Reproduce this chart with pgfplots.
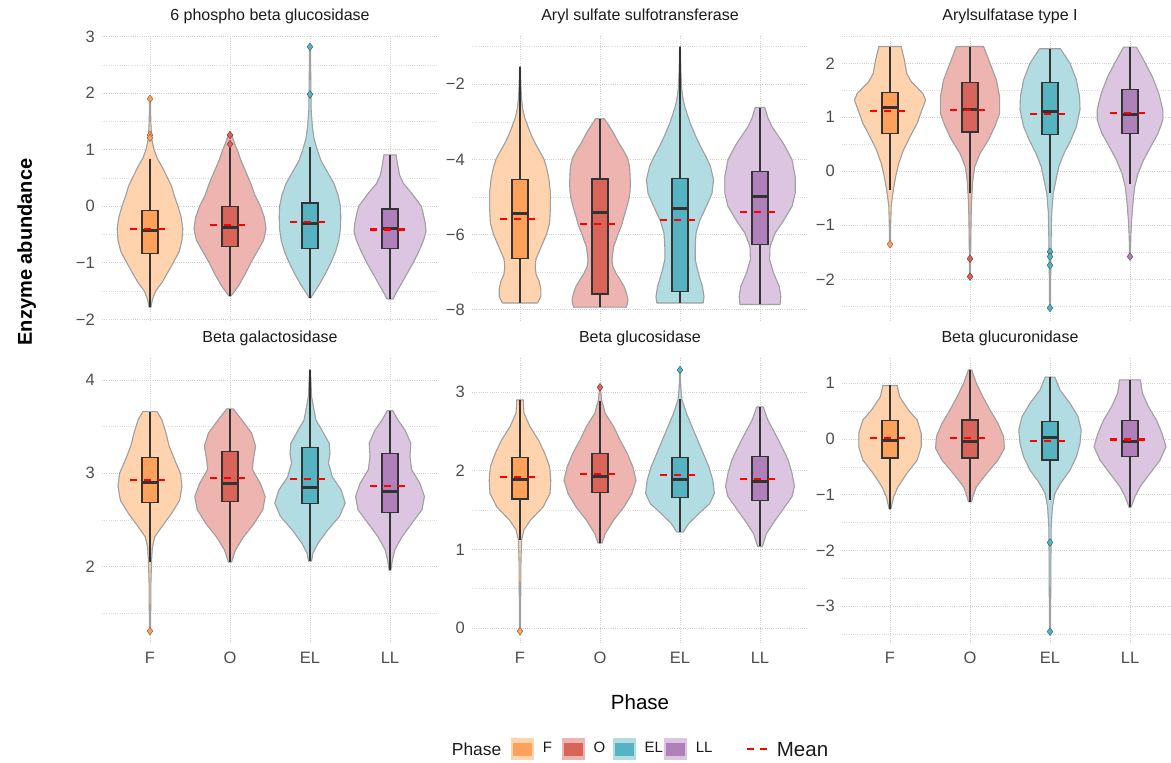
\documentclass[border=0pt]{standalone}
\usepackage{pgfplots}
\pgfplotsset{compat=1.18}
\usepackage{pgfplotstable}
\usepackage{fontspec}
\setmainfont{Liberation Sans}

\definecolor{boxF}{HTML}{FEA15B}
\definecolor{vioF}{HTML}{FED3AE}
\definecolor{boxO}{HTML}{D9645A}
\definecolor{vioO}{HTML}{EDB4B0}
\definecolor{boxE}{HTML}{56B3C2}
\definecolor{vioE}{HTML}{B1DCE2}
\definecolor{boxL}{HTML}{AF80B9}
\definecolor{vioL}{HTML}{DBC5E0}
\definecolor{dk}{HTML}{333333}
\definecolor{vgray}{HTML}{A0A0A0}
\definecolor{gridc}{HTML}{CFCFCF}
\definecolor{tickc}{HTML}{4D4D4D}
\definecolor{titc}{HTML}{1A1A1A}

\newcommand\ticksz{\fontsize{16.5}{18}\selectfont}
\newcommand\titsz{\fontsize{16}{18}\selectfont}
\newcommand\labsz{\fontsize{20.5}{22}\selectfont}

% ---------- violin profiles (y, half width); first/last rows close on the centre line ----------
\pgfplotstableread{
y w
-1.79 0
-1.79 0.010
-1.65 0.030
-1.50 0.070
-1.35 0.150
-1.20 0.210
-1.00 0.290
-0.80 0.365
-0.60 0.400
-0.40 0.410
-0.20 0.390
0.00 0.350
0.20 0.300
0.35 0.270
0.50 0.220
0.70 0.150
0.85 0.090
1.00 0.050
1.20 0.020
1.50 0.010
1.90 0.005
1.90 0
}\tAF
\pgfplotstableread{
y w
-1.59 0
-1.59 0.010
-1.50 0.060
-1.40 0.110
-1.20 0.190
-1.00 0.260
-0.80 0.340
-0.60 0.420
-0.40 0.450
-0.20 0.430
0.00 0.380
0.20 0.310
0.40 0.260
0.60 0.200
0.80 0.140
1.00 0.090
1.10 0.060
1.26 0.020
1.26 0
}\tAO
\pgfplotstableread{
y w
-1.62 0
-1.62 0.010
-1.55 0.040
-1.40 0.110
-1.20 0.190
-1.00 0.260
-0.80 0.320
-0.60 0.360
-0.40 0.380
-0.20 0.385
0.00 0.380
0.20 0.350
0.40 0.300
0.60 0.220
0.80 0.140
1.00 0.090
1.20 0.050
1.40 0.030
1.70 0.015
2.00 0.012
2.82 0.005
2.82 0
}\tAE
\pgfplotstableread{
y w
-1.64 0
-1.64 0.040
-1.55 0.070
-1.40 0.130
-1.20 0.210
-1.00 0.290
-0.80 0.360
-0.60 0.420
-0.45 0.450
-0.30 0.440
-0.10 0.410
0.00 0.390
0.10 0.340
0.25 0.260
0.40 0.170
0.55 0.120
0.70 0.100
0.91 0.075
0.91 0
}\tAL
\pgfplotstableread{
y w
-7.82 0
-7.82 0.220
-7.65 0.260
-7.45 0.260
-7.25 0.240
-7.05 0.200
-6.85 0.190
-6.65 0.200
-6.45 0.240
-6.25 0.280
-6.00 0.330
-5.70 0.370
-5.30 0.380
-4.90 0.380
-4.50 0.360
-4.20 0.330
-4.00 0.300
-3.80 0.250
-3.57 0.190
-3.35 0.140
-3.13 0.100
-2.90 0.060
-2.68 0.035
-2.40 0.020
-2.00 0.010
-1.53 0.005
-1.53 0
}\tBF
\pgfplotstableread{
y w
-7.93 0
-7.93 0.330
-7.75 0.350
-7.55 0.330
-7.38 0.300
-7.20 0.250
-7.03 0.200
-6.85 0.160
-6.67 0.150
-6.50 0.160
-6.32 0.170
-6.15 0.200
-5.96 0.230
-5.75 0.270
-5.52 0.300
-5.30 0.330
-5.08 0.360
-4.85 0.375
-4.63 0.380
-4.40 0.375
-4.19 0.370
-3.95 0.340
-3.75 0.290
-3.55 0.230
-3.30 0.170
-3.10 0.110
-2.92 0.055
-2.92 0
}\tBO
\pgfplotstableread{
y w
-7.82 0
-7.82 0.290
-7.65 0.300
-7.38 0.280
-7.03 0.230
-6.67 0.190
-6.32 0.190
-5.96 0.200
-5.61 0.250
-5.25 0.330
-4.90 0.400
-4.54 0.420
-4.19 0.380
-3.95 0.330
-3.75 0.280
-3.50 0.220
-3.30 0.180
-3.05 0.130
-2.86 0.100
-2.60 0.060
-2.42 0.040
-2.10 0.020
-1.60 0.010
-1.00 0.005
-1.00 0
}\tBE
\pgfplotstableread{
y w
-7.86 0
-7.86 0.250
-7.65 0.260
-7.38 0.240
-7.03 0.170
-6.67 0.120
-6.32 0.125
-5.96 0.190
-5.61 0.300
-5.25 0.400
-4.90 0.440
-4.46 0.440
-4.01 0.400
-3.80 0.350
-3.57 0.290
-3.35 0.220
-3.13 0.150
-2.90 0.100
-2.62 0.060
-2.62 0
}\tBL
\pgfplotstableread{
y w
-1.35 0
-1.35 0.005
-1.00 0.008
-0.65 0.015
-0.41 0.035
-0.10 0.070
0.15 0.110
0.40 0.170
0.64 0.250
0.89 0.340
1.14 0.400
1.32 0.445
1.44 0.410
1.55 0.340
1.65 0.270
1.81 0.210
2.06 0.180
2.31 0.140
2.31 0
}\tCF
\pgfplotstableread{
y w
-1.95 0
-1.95 0.005
-1.62 0.008
-1.20 0.010
-0.80 0.015
-0.53 0.020
-0.16 0.035
0.09 0.060
0.33 0.125
0.58 0.230
0.83 0.310
1.07 0.370
1.38 0.370
1.69 0.330
2.00 0.250
2.31 0.170
2.31 0
}\tCO
\pgfplotstableread{
y w
-2.53 0
-2.53 0.005
-2.00 0.008
-1.60 0.012
-1.20 0.015
-0.78 0.020
-0.41 0.040
-0.16 0.075
0.09 0.110
0.33 0.175
0.58 0.260
0.83 0.330
1.14 0.375
1.38 0.370
1.69 0.330
2.00 0.250
2.27 0.130
2.27 0
}\tCE
\pgfplotstableread{
y w
-1.58 0
-1.58 0.005
-1.20 0.010
-0.90 0.020
-0.53 0.040
-0.28 0.060
-0.04 0.100
0.21 0.170
0.46 0.260
0.70 0.350
0.95 0.410
1.14 0.410
1.44 0.360
1.75 0.280
2.06 0.170
2.30 0.080
2.30 0
}\tCL
\pgfplotstableread{
y w
1.31 0
1.31 0.005
1.60 0.010
1.85 0.012
2.07 0.020
2.21 0.030
2.32 0.060
2.43 0.150
2.57 0.270
2.71 0.370
2.86 0.400
3.00 0.380
3.14 0.310
3.29 0.240
3.43 0.200
3.57 0.150
3.66 0.090
3.66 0
}\tDF
\pgfplotstableread{
y w
2.05 0
2.05 0.020
2.18 0.070
2.32 0.170
2.46 0.300
2.61 0.410
2.75 0.440
2.89 0.380
3.04 0.280
3.14 0.290
3.29 0.320
3.43 0.270
3.57 0.150
3.69 0.040
3.69 0
}\tDO
\pgfplotstableread{
y w
2.06 0
2.06 0.020
2.14 0.035
2.25 0.100
2.39 0.220
2.54 0.370
2.68 0.440
2.82 0.390
2.96 0.280
3.11 0.230
3.21 0.250
3.32 0.240
3.46 0.150
3.57 0.075
3.68 0.050
3.82 0.020
4.11 0.005
4.11 0
}\tDE
\pgfplotstableread{
y w
1.96 0
1.96 0.010
2.07 0.030
2.18 0.060
2.32 0.150
2.46 0.270
2.61 0.400
2.75 0.430
2.89 0.375
3.04 0.270
3.18 0.250
3.32 0.260
3.46 0.190
3.57 0.100
3.67 0.035
3.67 0
}\tDL
\pgfplotstableread{
y w
-0.04 0
-0.04 0.005
0.31 0.008
0.86 0.012
1.12 0.020
1.25 0.050
1.37 0.130
1.54 0.290
1.71 0.375
1.88 0.385
2.05 0.370
2.22 0.310
2.39 0.230
2.56 0.125
2.73 0.050
2.90 0.040
2.90 0
}\tEF
\pgfplotstableread{
y w
1.08 0
1.08 0.025
1.20 0.065
1.37 0.170
1.54 0.300
1.71 0.400
1.88 0.450
2.05 0.410
2.22 0.340
2.39 0.250
2.56 0.170
2.73 0.065
2.90 0.020
3.06 0.005
3.06 0
}\tEO
\pgfplotstableread{
y w
1.22 0
1.22 0.040
1.33 0.110
1.46 0.240
1.58 0.370
1.71 0.430
1.88 0.410
2.05 0.360
2.22 0.290
2.39 0.220
2.56 0.150
2.73 0.080
2.90 0.025
3.05 0.010
3.28 0.005
3.28 0
}\tEE
\pgfplotstableread{
y w
1.04 0
1.04 0.030
1.20 0.080
1.37 0.190
1.54 0.310
1.67 0.400
1.80 0.430
1.97 0.400
2.14 0.350
2.31 0.270
2.47 0.190
2.64 0.100
2.81 0.040
2.81 0
}\tEL
\pgfplotstableread{
y w
-1.26 0
-1.26 0.010
-1.04 0.045
-0.86 0.100
-0.62 0.210
-0.38 0.340
-0.14 0.390
0.10 0.390
0.34 0.340
0.52 0.230
0.76 0.120
0.96 0.090
0.96 0
}\tFF
\pgfplotstableread{
y w
-1.13 0
-1.13 0.020
-1.04 0.035
-0.86 0.080
-0.62 0.210
-0.38 0.350
-0.17 0.430
0.04 0.420
0.28 0.350
0.52 0.250
0.76 0.160
1.00 0.080
1.24 0.020
1.24 0
}\tFO
\pgfplotstableread{
y w
-3.46 0
-3.46 0.005
-2.65 0.010
-1.99 0.012
-1.57 0.015
-1.22 0.030
-0.98 0.060
-0.80 0.130
-0.56 0.250
-0.32 0.330
-0.08 0.375
0.16 0.390
0.40 0.350
0.64 0.250
0.88 0.125
1.11 0.060
1.11 0
}\tFE
\pgfplotstableread{
y w
-1.23 0
-1.23 0.010
-1.04 0.060
-0.86 0.125
-0.62 0.250
-0.38 0.375
-0.14 0.450
0.10 0.400
0.34 0.330
0.58 0.230
0.82 0.155
1.06 0.130
1.06 0
}\tFL

% ---------- helpers ----------
\newcommand{\violin}[3]{%
  \addplot[fill=#3, draw=#3, line width=0.5pt] table[x expr={#1+\thisrow{w}}, y=y] {#2} -- cycle;
  \addplot[fill=#3, draw=#3, line width=0.5pt] table[x expr={#1-\thisrow{w}}, y=y] {#2} -- cycle;
  \addplot[draw=vgray, line width=1.1pt, line join=round] table[x expr={#1+\thisrow{w}}, y=y] {#2};
  \addplot[draw=vgray, line width=1.1pt, line join=round] table[x expr={#1-\thisrow{w}}, y=y] {#2};
}
% box: left, centre, right, lower whisker, Q1, median, Q3, upper whisker, colour
\newcommand{\bx}[9]{%
  \addplot[dk, line width=1.3pt] coordinates {(#2,#4) (#2,#5)};
  \addplot[dk, line width=1.3pt] coordinates {(#2,#7) (#2,#8)};
  \addplot[fill=#9, draw=dk, line width=1.3pt] coordinates {(#1,#5) (#3,#5) (#3,#7) (#1,#7)} -- cycle;
  \addplot[dk, line width=3pt] coordinates {(#1,#6) (#3,#6)};
}
\newcommand{\mn}[3]{%
  \addplot[red, line width=2.2pt, dash pattern=on 7.3pt off 6.7pt] coordinates {(#1,#3) (#2,#3)};
}

\pgfplotsset{
  panel/.style={
    scale only axis, width=336pt, height=286pt, anchor=south west,
    xmin=0.4, xmax=4.6, xtick={1,2,3,4}, xticklabels={F,O,EL,LL},
    axis line style={draw=none}, major tick length=0pt, minor tick length=0pt,
    xmajorgrids=true, ymajorgrids=true, yminorgrids=true,
    major grid style={draw=gridc, line width=0.6pt, dash pattern=on 1pt off 1.2pt},
    minor grid style={draw=gridc!75, line width=0.5pt, dash pattern=on 1pt off 1.2pt},
    tick label style={font=\ticksz, text=tickc},
    yticklabel style={anchor=east, inner sep=0pt, xshift=-7pt},
    xticklabel style={anchor=north, inner sep=0pt, yshift=-8.5pt},
    title style={font=\titsz, text=titc, at={(0.5,1)}, anchor=base, yshift=8.5pt, inner sep=0pt},
  },
  outl/.style={only marks, mark=diamond*, mark size=3.8pt,
    mark options={solid, fill=#1, draw=#1!60!black, line width=0.5pt}},
}

\begin{document}
\begin{tikzpicture}[x=1pt,y=1pt]

% ===== Panel A =====
\begin{axis}[panel, at={(102pt,442pt)}, ymin=-2.03, ymax=3.03,
  ytick={-2,-1,0,1,2,3}, yticklabels={−2,−1,0,1,2,3},
  minor ytick={-1.5,-0.5,0.5,1.5,2.5}, xticklabels={},
  title={6 phospho beta glucosidase}]
\violin{1}{\tAF}{vioF}
\violin{2}{\tAO}{vioO}
\violin{3}{\tAE}{vioE}
\violin{4}{\tAL}{vioL}
\bx{0.9}{1}{1.1}{-1.79}{-0.83}{-0.43}{-0.07}{0.83}{boxF}
\bx{1.9}{2}{2.1}{-1.59}{-0.71}{-0.38}{0.00}{1.05}{boxO}
\bx{2.9}{3}{3.1}{-1.62}{-0.75}{-0.31}{0.06}{1.05}{boxE}
\bx{3.9}{4}{4.1}{-1.64}{-0.75}{-0.40}{-0.05}{0.91}{boxL}
\addplot[outl=boxF] coordinates {(1,1.90) (1,1.26) (1,1.21)};
\addplot[outl=boxO] coordinates {(2,1.26) (2,1.10)};
\addplot[outl=boxE] coordinates {(3,1.98) (3,2.82)};
\mn{0.75}{1.25}{-0.40}
\mn{1.75}{2.25}{-0.33}
\mn{2.75}{3.25}{-0.28}
\mn{3.75}{4.25}{-0.41}
\end{axis}

% ===== Panel B =====
\begin{axis}[panel, at={(472pt,442pt)}, ymin=-8.30, ymax=-0.69,
  ytick={-8,-6,-4,-2}, yticklabels={−8,−6,−4,−2},
  minor ytick={-7,-5,-3,-1}, xticklabels={},
  title={Aryl sulfate sulfotransferase}]
\violin{1}{\tBF}{vioF}
\violin{2}{\tBO}{vioO}
\violin{3}{\tBE}{vioE}
\violin{4}{\tBL}{vioL}
\bx{0.9}{1}{1.1}{-7.82}{-6.63}{-5.45}{-4.53}{-1.53}{boxF}
\bx{1.9}{2}{2.1}{-7.93}{-7.58}{-5.41}{-4.52}{-2.92}{boxO}
\bx{2.9}{3}{3.1}{-7.82}{-7.52}{-5.32}{-4.50}{-1.00}{boxE}
\bx{3.9}{4}{4.1}{-7.86}{-6.26}{-4.99}{-4.32}{-2.62}{boxL}
\mn{0.75}{1.25}{-5.58}
\mn{1.75}{2.25}{-5.71}
\mn{2.75}{3.25}{-5.62}
\mn{3.75}{4.25}{-5.40}
\end{axis}

% ===== Panel C =====
\begin{axis}[panel, at={(842pt,442pt)}, ymin=-2.772, ymax=2.524,
  ytick={-2,-1,0,1,2}, yticklabels={−2,−1,0,1,2},
  minor ytick={-2.5,-1.5,-0.5,0.5,1.5,2.5}, xticklabels={},
  title={Arylsulfatase type I}]
\violin{1}{\tCF}{vioF}
\violin{2}{\tCO}{vioO}
\violin{3}{\tCE}{vioE}
\violin{4}{\tCL}{vioL}
\bx{0.9}{1}{1.1}{-0.35}{0.70}{1.19}{1.46}{2.31}{boxF}
\bx{1.9}{2}{2.1}{-0.40}{0.73}{1.15}{1.65}{2.31}{boxO}
\bx{2.9}{3}{3.1}{-0.40}{0.68}{1.10}{1.65}{2.27}{boxE}
\bx{3.9}{4}{4.1}{-0.23}{0.70}{1.06}{1.52}{2.30}{boxL}
\addplot[outl=boxF] coordinates {(1,-1.35)};
\addplot[outl=boxO] coordinates {(2,-1.62) (2,-1.95)};
\addplot[outl=boxE] coordinates {(3,-1.49) (3,-1.58) (3,-1.74) (3,-2.53)};
\addplot[outl=boxL] coordinates {(4,-1.58)};
\mn{0.75}{1.25}{1.11}
\mn{1.75}{2.25}{1.14}
\mn{2.75}{3.25}{1.06}
\mn{3.75}{4.25}{1.08}
\end{axis}

% ===== Panel D =====
\begin{axis}[panel, at={(102pt,120pt)}, ymin=1.182, ymax=4.246,
  ytick={2,3,4}, yticklabels={2,3,4},
  minor ytick={1.5,2.5,3.5},
  title={Beta galactosidase}]
\violin{1}{\tDF}{vioF}
\violin{2}{\tDO}{vioO}
\violin{3}{\tDE}{vioE}
\violin{4}{\tDL}{vioL}
\bx{0.9}{1}{1.1}{2.05}{2.69}{2.90}{3.17}{3.66}{boxF}
\bx{1.9}{2}{2.1}{2.05}{2.70}{2.89}{3.23}{3.69}{boxO}
\bx{2.9}{3}{3.1}{2.06}{2.675}{2.85}{3.275}{4.11}{boxE}
\bx{3.9}{4}{4.1}{1.96}{2.58}{2.80}{3.21}{3.67}{boxL}
\addplot[outl=boxF] coordinates {(1,1.31)};
\mn{0.75}{1.25}{2.93}
\mn{1.75}{2.25}{2.95}
\mn{2.75}{3.25}{2.94}
\mn{3.75}{4.25}{2.86}
\end{axis}

% ===== Panel E =====
\begin{axis}[panel, at={(472pt,120pt)}, ymin=-0.19, ymax=3.445,
  ytick={0,1,2,3}, yticklabels={0,1,2,3},
  minor ytick={0.5,1.5,2.5},
  title={Beta glucosidase}]
\violin{1}{\tEF}{vioF}
\violin{2}{\tEO}{vioO}
\violin{3}{\tEE}{vioE}
\violin{4}{\tEL}{vioL}
\bx{0.9}{1}{1.1}{1.12}{1.64}{1.89}{2.17}{2.90}{boxF}
\bx{1.9}{2}{2.1}{1.08}{1.72}{1.92}{2.22}{2.89}{boxO}
\bx{2.9}{3}{3.1}{1.22}{1.66}{1.89}{2.17}{2.91}{boxE}
\bx{3.9}{4}{4.1}{1.04}{1.62}{1.86}{2.18}{2.81}{boxL}
\addplot[outl=boxF] coordinates {(1,-0.04)};
\addplot[outl=boxO] coordinates {(2,3.06)};
\addplot[outl=boxE] coordinates {(3,3.28)};
\mn{0.75}{1.25}{1.92}
\mn{1.75}{2.25}{1.96}
\mn{2.75}{3.25}{1.95}
\mn{3.75}{4.25}{1.89}
\end{axis}

% ===== Panel F =====
\begin{axis}[panel, at={(842pt,120pt)}, ymin=-3.665, ymax=1.472,
  ytick={-3,-2,-1,0,1}, yticklabels={−3,−2,−1,0,1},
  minor ytick={-3.5,-2.5,-1.5,-0.5,0.5},
  title={Beta glucuronidase}]
\violin{1}{\tFF}{vioF}
\violin{2}{\tFO}{vioO}
\violin{3}{\tFE}{vioE}
\violin{4}{\tFL}{vioL}
\bx{0.9}{1}{1.1}{-1.26}{-0.34}{-0.02}{0.33}{0.96}{boxF}
\bx{1.9}{2}{2.1}{-1.13}{-0.34}{-0.04}{0.34}{1.24}{boxO}
\bx{2.9}{3}{3.1}{-1.10}{-0.38}{0.02}{0.31}{1.11}{boxE}
\bx{3.9}{4}{4.1}{-1.23}{-0.31}{-0.05}{0.33}{1.06}{boxL}
\addplot[outl=boxE] coordinates {(3,-1.86) (3,-3.46)};
\mn{0.75}{1.25}{0.01}
\mn{1.75}{2.25}{0.01}
\mn{2.75}{3.25}{-0.03}
\mn{3.75}{4.25}{-0.01}
\end{axis}

% ===== axis titles =====
\node[anchor=base, font=\labsz, text=black] at (640,53.7) {Phase};
\node[rotate=90, anchor=base, font=\fontsize{20}{22}\selectfont\bfseries, text=black] at (32,511) {Enzyme abundance};

% ===== legend =====
\node[anchor=base west, inner sep=0pt, font=\fontsize{17.4}{19}\selectfont, text=titc] at (451.7,7) {Phase};
\fill[vioF] (511.3,2.7) rectangle (534,25.3);
\fill[boxF] (513.3,7) rectangle (532,19.7);
\node[anchor=base west, inner sep=0pt, font=\fontsize{15}{17}\selectfont, text=titc] at (542.7,10.3) {F};
\fill[vioO] (562,2.7) rectangle (584.7,25.3);
\fill[boxO] (564,7) rectangle (582.7,19.7);
\node[anchor=base west, inner sep=0pt, font=\fontsize{15}{17}\selectfont, text=titc] at (593.3,10.3) {O};
\fill[vioE] (613,2.7) rectangle (635.7,25.3);
\fill[boxE] (615,7) rectangle (633.7,19.7);
\node[anchor=base west, inner sep=0pt, font=\fontsize{15}{17}\selectfont, text=titc] at (644.3,10.3) {EL};
\fill[vioL] (664,2.7) rectangle (686.7,25.3);
\fill[boxL] (666,7) rectangle (684.7,19.7);
\node[anchor=base west, inner sep=0pt, font=\fontsize{15}{17}\selectfont, text=titc] at (695.7,10.3) {LL};
\draw[red, line width=2pt, dash pattern=on 7.3pt off 5.5pt] (746.7,13.7) -- (766.7,13.7);
\node[anchor=base west, inner sep=0pt, font=\labsz, text=titc] at (776.7,6.3) {Mean};

\pgfresetboundingbox
\path[use as bounding box] (0,0) rectangle (1171,763);
\end{tikzpicture}
\end{document}
